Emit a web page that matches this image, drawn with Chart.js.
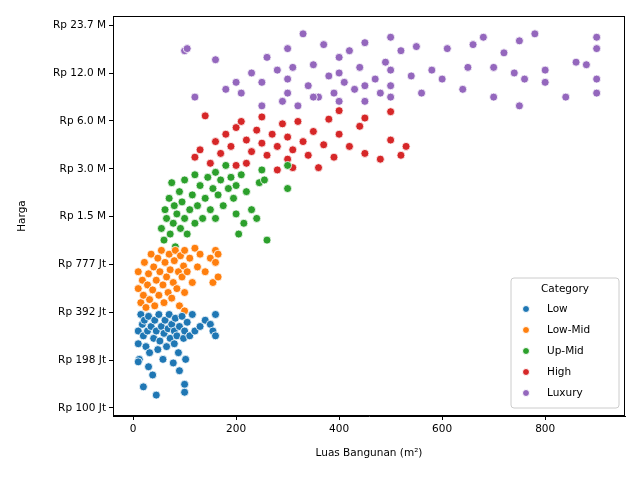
<!DOCTYPE html>
<html><head>
<script src="https://cdn.jsdelivr.net/npm/chart.js@4"></script>
<style>body{margin:0;background:#fff}</style>
</head><body>
<div style="width:640px;height:480px"><canvas id="c"></canvas></div>
<script>
// values: [luas bangunan m2, harga in juta]
const low = [[10,300],[10,250],[12,200],[15,380],[18,330],[20,280],[22,350],[25,240],[28,300],[30,370],[30,180],[32,220],[35,320],[38,160],[40,270],[42,350],[45,300],[45,120],[48,230],[50,380],[52,260],[55,320],[58,200],[60,290],[62,350],[65,240],[68,310],[70,380],[72,270],[75,330],[78,190],[80,300],[80,250],[82,360],[85,280],[88,220],[90,320],[90,170],[95,370],[98,270],[100,300],[100,140],[100,125],[102,200],[105,340],[110,280],[115,380],[120,300],[130,320],[140,350],[150,330],[155,300],[160,380],[160,280],[20,135],[10,193]]
const lowMid = [[10,700],[10,550],[15,450],[18,620],[20,500],[22,800],[25,420],[28,580],[30,680],[32,470],[35,900],[38,540],[40,750],[42,430],[45,620],[48,850],[50,500],[52,700],[55,950],[58,580],[60,450],[62,800],[65,650],[68,520],[70,900],[72,720],[75,480],[78,600],[80,820],[82,950],[85,550],[88,700],[90,430],[92,880],[95,650],[98,760],[100,520],[100,950],[105,700],[110,850],[115,600],[120,980],[125,750],[130,900],[140,700],[150,850],[155,600],[160,950],[160,800],[165,650],[165,900],[100,400]]
const upMid = [[55,1300],[60,1100],[62,1700],[65,1500],[70,2000],[72,1200],[75,2500],[78,1400],[80,1800],[82,1000],[85,1600],[90,2200],[92,1300],[95,1900],[100,1500],[100,2600],[105,1200],[110,1700],[115,2100],[120,1400],[120,2800],[125,1800],[130,2400],[135,1500],[140,2000],[145,2700],[150,1700],[155,2300],[160,2900],[160,1500],[165,2100],[170,2600],[175,1800],[180,3200],[185,2300],[190,2700],[195,2000],[200,2400],[200,1600],[205,1200],[210,2800],[215,1400],[220,2200],[230,1700],[240,1500],[245,2500],[250,3000],[255,2600],[260,1100],[300,2300],[300,3200]]
const high = [[140,6500],[120,3600],[130,4000],[150,3300],[160,4500],[170,3800],[180,5000],[190,4200],[200,5500],[200,3200],[210,6000],[220,4600],[230,3900],[240,5300],[250,4400],[250,6400],[260,3700],[270,5000],[280,4200],[290,5800],[300,3500],[300,4800],[310,4000],[320,6000],[330,4500],[340,3700],[350,5200],[360,3100],[370,4300],[380,6200],[390,3600],[400,5000],[400,7000],[420,4200],[440,5600],[450,3800],[450,6300],[480,3500],[500,4600],[500,6900],[520,3700],[530,4200],[220,3300],[280,3000],[310,3100]]
const luxury = [[100,16500],[105,17000],[160,14500],[120,8500],[180,9500],[200,10500],[210,9000],[230,12000],[250,7500],[250,10500],[260,15000],[280,12500],[290,8000],[300,17000],[300,11000],[300,9000],[310,13000],[320,7500],[330,21000],[340,10000],[350,13500],[360,8500],[370,18000],[380,11500],[390,9000],[400,15000],[400,12000],[400,8000],[410,10500],[420,16500],[430,9500],[440,13000],[450,18500],[450,8000],[470,11000],[490,14000],[500,20000],[500,10000],[500,12500],[500,8500],[520,16500],[540,11500],[550,17500],[560,9000],[580,12500],[600,11000],[610,17000],[640,9500],[650,13000],[660,18000],[680,20000],[700,13000],[700,8500],[720,16000],[740,12000],[750,19000],[750,7500],[760,11000],[780,21000],[800,10500],[800,12500],[840,8500],[860,14000],[880,13500],[900,20000],[900,11000],[900,9000],[900,17000],[450,10000],[480,9000],[350,8500]]

const categories = ['Low', 'Low-Mid', 'Up-Mid', 'High', 'Luxury']
const colors = ['#1f77b4', '#ff7f0e', '#2ca02c', '#d62728', '#9467bd']
const yTickValues = [100, 198, 392, 777, 1540, 3050, 6040, 11960, 23700]
const yTickLabels = ['Rp 100 Jt', 'Rp 198 Jt', 'Rp 392 Jt', 'Rp 777 Jt', 'Rp 1.5 M', 'Rp 3.0 M', 'Rp 6.0 M', 'Rp 12.0 M', 'Rp 23.7 M']

const series = [low, lowMid, upMid, high, luxury]
const font = { family: 'DejaVu Sans', size: 10.5 }

const legendBox = {
  id: 'legendBox',
  afterDraw(chart) {
    const c = chart.ctx, a = chart.chartArea
    c.save()
    c.strokeStyle = '#000'; c.lineWidth = 1
    c.strokeRect(a.left + 0.5, a.top + 0.5, a.width - 1, a.height - 1)
    // axis titles
    c.fillStyle = '#000'; c.font = '10.5px "DejaVu Sans"'
    c.textAlign = 'center'; c.textBaseline = 'middle'
    c.fillText('Luas Bangunan (m²)', (a.left + a.right) / 2, 453)
    c.save(); c.translate(22, (a.top + a.bottom) / 2); c.rotate(-Math.PI / 2)
    c.fillText('Harga', 0, 0); c.restore()
    // legend
    const x = 511, y = 278, w = 108, h = 130
    c.fillStyle = 'rgba(255,255,255,0.8)'; c.strokeStyle = '#ccc'
    c.beginPath(); c.roundRect(x, y, w, h, 3); c.fill(); c.stroke()
    c.fillStyle = '#000'; c.font = '10.5px "DejaVu Sans"'; c.textBaseline = 'middle'
    c.textAlign = 'center'; c.fillText('Category', x + w / 2, y + 11)
    c.textAlign = 'left'
    categories.forEach((n, i) => {
      const yy = y + 31 + i * 21
      c.beginPath(); c.arc(x + 15, yy, 3.5, 0, Math.PI * 2)
      c.fillStyle = colors[i]; c.fill(); c.strokeStyle = '#fff'; c.stroke()
      c.fillStyle = '#000'; c.fillText(n, x + 36, yy)
    })
    c.restore()
  }
}

new Chart(document.getElementById('c'), {
  type: 'scatter',
  data: {
    datasets: series.map((s, i) => ({
      label: categories[i],
      data: s.map(p => ({ x: p[0], y: p[1] })),
      backgroundColor: colors[i],
      borderColor: '#fff',
      borderWidth: 0.8,
      pointRadius: 4
    }))
  },
  options: {
    responsive: true, maintainAspectRatio: false, animation: false,
    layout: { padding: { top: 16, right: 15 } },
    plugins: { legend: { display: false }, tooltip: { enabled: false } },
    scales: {
      x: {
        min: -39, max: 955,
        afterBuildTicks: s => { s.ticks = [0, 200, 400, 600, 800].map(v => ({ value: v })) },
        afterFit: s => { s.height = 64 },
        grid: { drawOnChartArea: false, tickLength: 4, color: '#000' },
        border: { color: '#000' },
        ticks: { color: '#000', font, padding: 3 }
      },
      y: {
        type: 'logarithmic', min: 89, max: 27100,
        afterBuildTicks: s => { s.ticks = yTickValues.map(v => ({ value: v })) },
        afterFit: s => { s.width = 113 },
        grid: { drawOnChartArea: false, tickLength: 4, color: '#000' },
        border: { color: '#000' },
        ticks: { color: '#000', font, padding: 3, callback: (v) => yTickLabels[yTickValues.indexOf(v)] }
      }
    }
  },
  plugins: [legendBox]
})
</script>
</body></html>
